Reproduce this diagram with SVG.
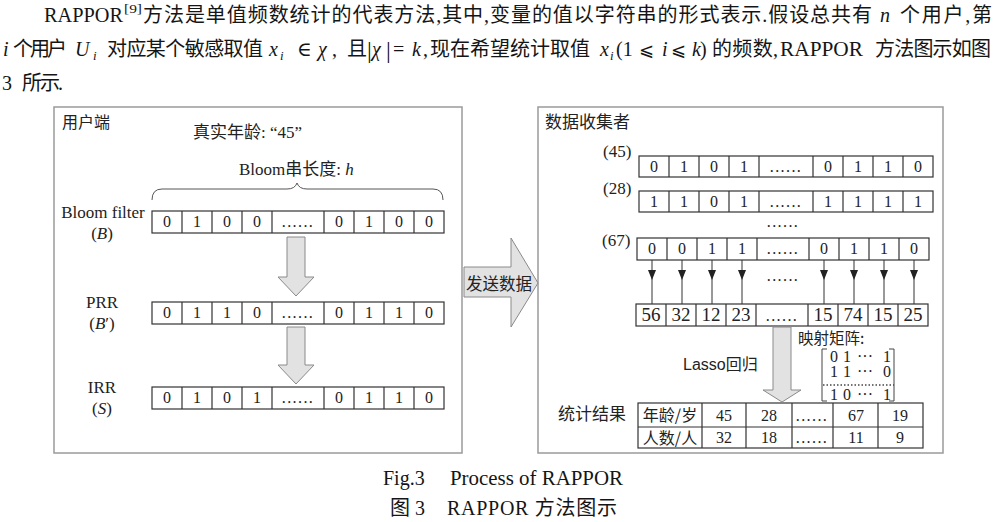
<svg xmlns="http://www.w3.org/2000/svg" width="1005" height="522" viewBox="0 0 1005 522">
<style>
.t{font-family:"Liberation Serif","Noto Sans CJK SC",serif;fill:#151515}
.c{font-family:"Noto Sans CJK SC","Liberation Serif",sans-serif;fill:#222}
.m{font-family:"Liberation Serif","DejaVu Serif","DejaVu Sans",serif;fill:#151515}
.i{font-style:italic}
.row{fill:#fff;stroke:#333;stroke-width:1.2}
.div{fill:none;stroke:#333;stroke-width:1.2}
.panel{fill:#fff;stroke:#9a9a9a;stroke-width:1.5}
.blk{fill:#e2e2e2;stroke:#8a8a8a;stroke-width:1}
.ct{font-family:"Liberation Serif",serif;font-size:16px;fill:#222;text-anchor:middle}
.ct2{font-family:"Liberation Serif",serif;font-size:19px;fill:#222;text-anchor:middle}
.dots{letter-spacing:1.4px}
.lbl{font-family:"Liberation Serif","Noto Sans CJK SC",serif;font-size:17px;fill:#222}
.cap{font-family:"Liberation Serif","Noto Sans CJK SC",serif;font-size:20px;fill:#151515}
</style>
<rect width="1005" height="522" fill="#fff"/>

<g id="paragraph" font-size="20">
  <text class="t" x="44" y="22" textLength="79" lengthAdjust="spacingAndGlyphs">RAPPOR</text>
  <text class="t" x="124" y="13" font-size="13" textLength="18" lengthAdjust="spacingAndGlyphs">[9]</text>
  <text class="t" x="143" y="22" textLength="729" lengthAdjust="spacing">方法是单值频数统计的代表方法,其中,变量的值以字符串的形式表示.假设总共有</text>
  <text class="t i" x="880" y="22">n</text>
  <text class="t" x="900" y="22" textLength="92" lengthAdjust="spacing">个用户,第</text>

  <text class="t i" x="3" y="56">i</text>
  <text class="t" x="13" y="56" textLength="54" lengthAdjust="spacing">个用户</text>
  <text class="t i" x="75" y="56">U</text>
  <text class="t i" x="93" y="60" font-size="13">i</text>
  <text class="t" x="107" y="56" textLength="156" lengthAdjust="spacing">对应某个敏感取值</text>
  <text class="t i" x="269" y="56">x</text>
  <text class="t i" x="280" y="60" font-size="13">i</text>
  <text class="m" x="297" y="56">∈</text>
  <text class="m i" x="318" y="56">χ</text>
  <text class="t" x="332" y="56">,</text>
  <text class="t" x="347" y="56">且</text>
  <text class="m" x="367" y="58" font-size="24">|</text>
  <text class="m i" x="372" y="56">χ</text>
  <text class="m" x="386" y="58" font-size="24">|</text>
  <text class="m" x="393" y="56">=</text>
  <text class="t i" x="412" y="56">k</text>
  <text class="t" x="423" y="56">,</text>
  <text class="t" x="430" y="56" textLength="160" lengthAdjust="spacing">现在希望统计取值</text>
  <text class="t i" x="600" y="56">x</text>
  <text class="t i" x="610" y="60" font-size="13">i</text>
  <text class="t" x="616" y="56">(1</text>
  <text class="m" x="639" y="56" font-size="18">⩽</text>
  <text class="t i" x="662" y="56">i</text>
  <text class="m" x="671" y="56" font-size="18">⩽</text>
  <text class="t i" x="692" y="56">k</text>
  <text class="t" x="700" y="56">)</text>
  <text class="t" x="712" y="56" textLength="66" lengthAdjust="spacing">的频数,</text>
  <text class="t" x="780" y="56" textLength="83" lengthAdjust="spacingAndGlyphs">RAPPOR</text>
  <text class="t" x="875" y="56" textLength="116" lengthAdjust="spacing">方法图示如图</text>

  <text class="t" x="2" y="90">3</text>
  <text class="t" x="22" y="90" textLength="41" lengthAdjust="spacing">所示.</text>
</g>

<g id="panel-user">
  <rect class="panel" x="54" y="107" width="408" height="346"/>
  <text class="c" x="62" y="128" font-size="16">用户端</text>
  <text class="lbl" x="193" y="138" font-size="16">真实年龄: “45”</text>
  <text class="lbl" x="239" y="175">Bloom串长度: <tspan class="i">h</tspan></text>
  <path d="M152,200 Q152,189 162,189 L287,189 Q295,189 297,183 Q299,189 307,189 L433,189 Q443,189 443,200" fill="none" stroke="#555" stroke-width="1"/>
</g>

<g id="row-bloom">
  <text class="lbl" x="103" y="218" text-anchor="middle">Bloom filter</text>
  <text class="lbl" x="102" y="239" text-anchor="middle">(<tspan class="i">B</tspan>)</text>
  <rect class="row" x="152" y="211" width="292" height="22"/>
  <path class="div" d="M182,211V233M212,211V233M242,211V233M272,211V233M324,211V233M354,211V233M384,211V233M414,211V233"/>
  <text class="ct" y="227"><tspan x="167">0</tspan><tspan x="197">1</tspan><tspan x="227">0</tspan><tspan x="257">0</tspan><tspan x="298" class="dots">......</tspan><tspan x="339">0</tspan><tspan x="369">1</tspan><tspan x="399">0</tspan><tspan x="429">0</tspan></text>
</g>

<g id="row-prr">
  <text class="lbl" x="102" y="308" text-anchor="middle">PRR</text>
  <text class="lbl" x="102" y="329" text-anchor="middle">(<tspan class="i">B</tspan>′)</text>
  <rect class="row" x="152" y="302" width="292" height="22"/>
  <path class="div" d="M182,302V324M212,302V324M242,302V324M272,302V324M324,302V324M354,302V324M384,302V324M414,302V324"/>
  <text class="ct" y="318"><tspan x="167">0</tspan><tspan x="197">1</tspan><tspan x="227">1</tspan><tspan x="257">0</tspan><tspan x="298" class="dots">......</tspan><tspan x="339">0</tspan><tspan x="369">1</tspan><tspan x="399">1</tspan><tspan x="429">0</tspan></text>
</g>

<g id="row-irr">
  <text class="lbl" x="102" y="393" text-anchor="middle">IRR</text>
  <text class="lbl" x="102" y="414" text-anchor="middle">(<tspan class="i">S</tspan>)</text>
  <rect class="row" x="152" y="387" width="292" height="22"/>
  <path class="div" d="M182,387V409M212,387V409M242,387V409M272,387V409M324,387V409M354,387V409M384,387V409M414,387V409"/>
  <text class="ct" y="403"><tspan x="167">0</tspan><tspan x="197">1</tspan><tspan x="227">0</tspan><tspan x="257">1</tspan><tspan x="298" class="dots">......</tspan><tspan x="339">0</tspan><tspan x="369">1</tspan><tspan x="399">1</tspan><tspan x="429">0</tspan></text>
</g>

<g id="panel-collector">
  <rect class="panel" x="538" y="107" width="405" height="346"/>
  <text class="c" x="545" y="128" font-size="17">数据收集者</text>
</g>

<g id="row-45">
  <text class="lbl" x="603" y="157">(45)</text>
  <rect class="row" x="639" y="156" width="294" height="21"/>
  <path class="div" d="M669,156V177M699,156V177M729,156V177M759,156V177M813,156V177M843,156V177M873,156V177M903,156V177"/>
  <text class="ct" y="172"><tspan x="654">0</tspan><tspan x="684">1</tspan><tspan x="714">0</tspan><tspan x="744">1</tspan><tspan x="786" class="dots">......</tspan><tspan x="828">0</tspan><tspan x="858">1</tspan><tspan x="888">1</tspan><tspan x="918">0</tspan></text>
</g>

<g id="row-28">
  <text class="lbl" x="603" y="194">(28)</text>
  <rect class="row" x="639" y="191" width="294" height="21"/>
  <path class="div" d="M669,191V212M699,191V212M729,191V212M759,191V212M813,191V212M843,191V212M873,191V212M903,191V212"/>
  <text class="ct" y="207"><tspan x="654">1</tspan><tspan x="684">1</tspan><tspan x="714">0</tspan><tspan x="744">1</tspan><tspan x="786" class="dots">......</tspan><tspan x="828">1</tspan><tspan x="858">1</tspan><tspan x="888">1</tspan><tspan x="918">1</tspan></text>
  <text class="ct dots" x="783" y="227">......</text>
</g>

<g id="row-67">
  <text class="lbl" x="602" y="246">(67)</text>
  <rect class="row" x="637" y="238" width="292" height="22"/>
  <path class="div" d="M667,238V260M697,238V260M727,238V260M757,238V260M809,238V260M839,238V260M869,238V260M899,238V260"/>
  <text class="ct" y="254"><tspan x="652">0</tspan><tspan x="682">0</tspan><tspan x="712">1</tspan><tspan x="742">1</tspan><tspan x="783" class="dots">......</tspan><tspan x="824">0</tspan><tspan x="854">1</tspan><tspan x="884">1</tspan><tspan x="914">0</tspan></text>
</g>

<g id="row-counts">
  <rect class="row" x="636" y="304" width="292" height="22"/>
  <path class="div" d="M666,304V326M696,304V326M726,304V326M756,304V326M808,304V326M838,304V326M868,304V326M898,304V326"/>
  <text class="ct2" y="321"><tspan x="651">56</tspan><tspan x="681">32</tspan><tspan x="711">12</tspan><tspan x="741">23</tspan><tspan x="782" class="dots" font-size="16">......</tspan><tspan x="823">15</tspan><tspan x="853">74</tspan><tspan x="883">15</tspan><tspan x="913">25</tspan></text>
</g>

<g id="mapping-matrix">
  <text class="c" x="798" y="343.5" font-size="15.5">映射矩阵:</text>
  <path d="M827,349H822V401H827M889,349H894V401H889" fill="none" stroke="#444" stroke-width="1"/>
  <g class="ct" font-size="13.5">
    <text y="362"><tspan x="834">0</tspan><tspan x="847">1</tspan><tspan x="865">···</tspan><tspan x="887">1</tspan></text>
    <text y="377"><tspan x="834">1</tspan><tspan x="847">1</tspan><tspan x="865">···</tspan><tspan x="887">0</tspan></text>
    <text y="400"><tspan x="834">1</tspan><tspan x="847">0</tspan><tspan x="865">···</tspan><tspan x="887">1</tspan></text>
  </g>
  <line x1="823" y1="385" x2="894" y2="385" stroke="#444" stroke-width="1.5" stroke-dasharray="1.5 2"/>
</g>

<g id="results">
  <text class="c" x="558" y="420" font-size="17">统计结果</text>
  <rect class="row" x="638" y="403" width="285" height="45"/>
  <path class="div" d="M638,427H923M702,403V448M746,403V448M792,403V448M833,403V448M878,403V448"/>
  <text class="c" x="670" y="421" font-size="16" text-anchor="middle">年龄/岁</text>
  <text class="c" x="670" y="444" font-size="16" text-anchor="middle">人数/人</text>
  <g class="ct" font-size="18">
    <text y="421"><tspan x="724">45</tspan><tspan x="769">28</tspan><tspan x="812" class="dots" font-size="16">......</tspan><tspan x="856">67</tspan><tspan x="900">19</tspan></text>
    <text y="443"><tspan x="724">32</tspan><tspan x="769">18</tspan><tspan x="812" class="dots" font-size="16">......</tspan><tspan x="856">11</tspan><tspan x="900">9</tspan></text>
  </g>
</g>

<g id="connectors">
  <polygon class="blk" points="287,237 305,237 305,277 314,277 296,296 278,277 287,277"/>
  <polygon class="blk" points="287,327 305,327 305,365 314,365 296,384 278,365 287,365"/>
  <polygon class="blk" points="464,267 511,267 511,238 538,283 511,327 511,297 464,297"/>
  <text class="c" x="499" y="290" font-size="16.5" text-anchor="middle">发送数据</text>
  <polygon class="blk" points="773,327 791,327 791,390 801,390 782,402 763,390 773,390"/>
  <text x="683" y="370" font-size="16"><tspan font-family="Liberation Sans, sans-serif" fill="#222">Lasso</tspan><tspan class="c">回归</tspan></text>
  <g stroke="#333" stroke-width="1">
    <path d="M652,260V304M682,260V304M712,260V304M742,260V304M824,260V304M854,260V304M884,260V304M914,260V304"/>
  </g>
  <g fill="#222">
    <polygon points="648,270 656,270 652,280"/>
    <polygon points="678,270 686,270 682,280"/>
    <polygon points="708,270 716,270 712,280"/>
    <polygon points="738,270 746,270 742,280"/>
    <polygon points="820,270 828,270 824,280"/>
    <polygon points="850,270 858,270 854,280"/>
    <polygon points="880,270 888,270 884,280"/>
    <polygon points="910,270 918,270 914,280"/>
  </g>
  <text class="ct dots" x="783" y="281">......</text>
</g>

<g id="caption">
  <text class="cap" x="383" y="485">Fig.3</text>
  <text class="cap" x="450" y="485" textLength="173" lengthAdjust="spacingAndGlyphs">Process of RAPPOR</text>
  <text class="cap" x="390" y="515">图 3</text>
  <text class="cap" x="447" y="515" textLength="170" lengthAdjust="spacing">RAPPOR 方法图示</text>
</g>
</svg>
